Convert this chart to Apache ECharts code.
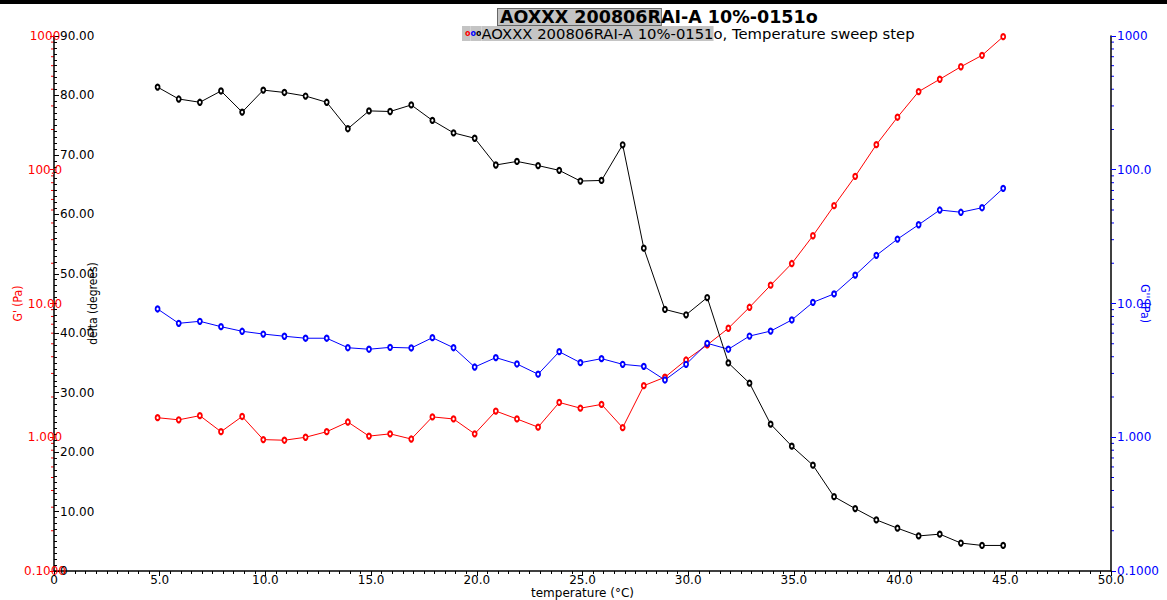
<!DOCTYPE html>
<html>
<head>
<meta charset="utf-8">
<script src="https://cdn.jsdelivr.net/npm/echarts@6/dist/echarts.min.js"></script>
<style>
  html, body { margin: 0; padding: 0; background: #ffffff; }
  #chart { width: 1167px; height: 600px; }
</style>
</head>
<body>
<div id="chart"></div>
<script>
// ---- data ----
const temperature = [4.9, 5.9, 6.9, 7.9, 8.9, 9.9, 10.9, 11.9, 12.9, 13.9,
  14.9, 15.9, 16.9, 17.9, 18.9, 19.9, 20.9, 21.9, 22.9, 23.9,
  24.9, 25.9, 26.9, 27.9, 28.9, 29.9, 30.9, 31.9, 32.9, 33.9,
  34.9, 35.9, 36.9, 37.9, 38.9, 39.9, 40.9, 41.9, 42.9, 43.9, 44.9];

const gPrime = [1.40, 1.35, 1.45, 1.10, 1.43, 0.96, 0.95, 1.00, 1.10, 1.30,
  1.02, 1.06, 0.97, 1.42, 1.37, 1.06, 1.57, 1.37, 1.19, 1.82,
  1.65, 1.76, 1.18, 2.43, 2.81, 3.78, 4.90, 6.53, 9.37, 13.7,
  19.9, 32.1, 53.9, 89.3, 154, 247, 384, 475, 589, 717, 988];

const gDoublePrime = [9.10, 7.11, 7.36, 6.71, 6.20, 5.91, 5.69, 5.50, 5.50, 4.67,
  4.55, 4.70, 4.65, 5.55, 4.67, 3.35, 3.94, 3.53, 2.96, 4.36,
  3.61, 3.87, 3.51, 3.39, 2.68, 3.51, 5.04, 4.55, 5.71, 6.22,
  7.53, 10.2, 11.8, 16.3, 22.9, 30.3, 38.8, 50.0, 48.1, 52.0, 72.6];

const delta = [81.4, 79.4, 78.85, 80.75, 77.2, 80.9, 80.5, 79.9, 78.85, 74.4,
  77.4, 77.3, 78.4, 75.8, 73.7, 72.8, 68.3, 68.9, 68.2, 67.4,
  65.6, 65.7, 71.7, 54.3, 44.0, 43.1, 46.0, 35.0, 31.6, 24.7,
  21.0, 17.8, 12.5, 10.5, 8.6, 7.2, 5.9, 6.2, 4.7, 4.3, 4.3];

const logTickExponents = [-1, 0, 1, 2, 3];
const logTickLabels = ['0.1000', '1.000', '10.00', '100.0', '1000'];
const logMinorMultipliers = [2, 3, 4, 5, 6, 7, 8, 9];
const logDecades = [0.1, 1, 10, 100];

const titleText = 'AOXXX 200806R';
const titleRest = 'AI-A 10%-0151o';
const legendBoxed = 'AOXXX 200806RAI-A 10%-0151';
const legendRest = 'o, Temperature sweep step';
const deltaName = 'delta (degrees)';
const gPrimeName = "G' (Pa)";
const gDoublePrimeName = "G'' (Pa)";
const xName = 'temperature (°C)';

// ---- chart ----
const FONT = 'DejaVu Sans';
const NARROW = "'DejaVu Sans Condensed', 'Liberation Sans Narrow', 'Liberation Sans', sans-serif";
const RED = '#ff0000', BLUE = '#0000ff', BLACK = '#000000';

function logLabel(v) {
  const e = Math.round(Math.log10(v));
  const i = logTickExponents.indexOf(e);
  return i >= 0 ? logTickLabels[i] : '';
}
function pairs(ys) { return temperature.map((t, i) => [t, ys[i]]); }

const chart = echarts.init(document.getElementById('chart'), null, { renderer: 'svg' });

const symbolSize = [4, 5];
const option = {
  backgroundColor: '#ffffff',
  animation: false,
  title: [
    {
      left: 493, top: 4,
      text: '{hl|' + titleText + '}{n|' + titleRest + '}',
      textStyle: {
        rich: {
          hl: { fontFamily: FONT, fontWeight: 'bold', fontSize: 17.5, color: '#000',
                backgroundColor: '#c4c4c4', borderColor: '#666', borderWidth: 1, padding: [0, 0, 0, 2], height: 16 },
          n: { fontFamily: FONT, fontWeight: 'bold', fontSize: 17.5, color: '#000', height: 16 }
        }
      }
    },
    {
      left: 457, top: 21,
      text: '{r|o}{b|o}{k|o}{hl|' + legendBoxed + '}{n|' + legendRest + '}',
      textStyle: {
        fontWeight: 'normal',
        rich: {
          r: { fontFamily: FONT, fontWeight: 'bold', fontSize: 8, color: RED, backgroundColor: '#c4c4c4', height: 15, padding: [0, 0, 0, 3] },
          b: { fontFamily: FONT, fontWeight: 'bold', fontSize: 8, color: BLUE, backgroundColor: '#c4c4c4', height: 15 },
          k: { fontFamily: FONT, fontWeight: 'bold', fontSize: 8, color: BLACK, backgroundColor: '#c4c4c4', height: 15 },
          hl: { fontFamily: FONT, fontWeight: 'normal', fontSize: 14.8, color: '#000', backgroundColor: '#c4c4c4', height: 15 },
          n: { fontFamily: FONT, fontWeight: 'normal', fontSize: 14.8, color: '#000', height: 15 }
        }
      }
    }
  ],
  grid: { left: 54, right: 56, top: 36, bottom: 29, containLabel: false, outerBoundsMode: 'none' },
  xAxis: {
    type: 'value', min: 0, max: 50, interval: 5,
    axisLine: { show: true, lineStyle: { color: BLACK, width: 1.5 } },
    axisTick: { show: true, inside: false, length: 5, lineStyle: { color: BLACK } },
    minorTick: { show: true, splitNumber: 10, length: 3, lineStyle: { color: BLACK } },
    splitLine: { show: false },
    axisLabel: { fontFamily: FONT, fontSize: 12, color: '#000', margin: 3,
                 formatter: v => v === 0 ? '0' : v.toFixed(1) }
  },
  yAxis: [
    {
      type: 'log', logBase: 10, min: 0.1, max: 1000, position: 'left',
      axisLine: { show: true, lineStyle: { color: BLACK, width: 1.5 } },
      axisTick: { show: true, inside: false, length: 4, lineStyle: { color: RED } },
      splitLine: { show: false },
      axisLabel: { fontFamily: FONT, fontSize: 12, color: RED, margin: 9, align: 'center', formatter: logLabel }
    },
    {
      type: 'value', min: 0, max: 90, interval: 10, position: 'left',
      axisLine: { show: false },
      axisTick: { show: true, inside: true, length: 5, lineStyle: { color: BLACK } },
      minorTick: { show: true, splitNumber: 10, length: 3, lineStyle: { color: BLACK } },
      splitLine: { show: false },
      axisLabel: { inside: true, fontFamily: FONT, fontSize: 12, color: '#000', margin: 6,
                   formatter: v => v === 0 ? '0' : v.toFixed(2) }
    },
    {
      type: 'log', logBase: 10, min: 0.1, max: 1000, position: 'right',
      axisLine: { show: true, lineStyle: { color: BLACK, width: 1.5 } },
      axisTick: { show: true, inside: false, length: 5, lineStyle: { color: BLUE } },
      splitLine: { show: false },
      axisLabel: { fontFamily: FONT, fontSize: 12, color: BLUE, margin: 6, formatter: logLabel }
    }
  ],
  series: [
    {
      name: "G'", type: 'line', yAxisIndex: 0, data: pairs(gPrime),
      symbol: 'emptyCircle', symbolSize: symbolSize,
      lineStyle: { color: RED, width: 1 },
      itemStyle: { color: RED, borderColor: RED, borderWidth: 1 }
    },
    {
      name: "G''", type: 'line', yAxisIndex: 2, data: pairs(gDoublePrime),
      symbol: 'emptyCircle', symbolSize: symbolSize,
      lineStyle: { color: BLUE, width: 1 },
      itemStyle: { color: BLUE, borderColor: BLUE, borderWidth: 1 }
    },
    {
      name: 'delta', type: 'line', yAxisIndex: 1, data: pairs(delta),
      symbol: 'emptyCircle', symbolSize: symbolSize,
      lineStyle: { color: BLACK, width: 1 },
      itemStyle: { color: BLACK, borderColor: BLACK, borderWidth: 1 }
    }
  ]
};
chart.setOption(option);

// Axis names, log-axis minor ticks and top bar, positioned through the axes
const graphics = [{ type: 'rect', left: 0, top: 0, shape: { x: 0, y: 0, width: 1167, height: 4 },
                    style: { fill: '#000' }, silent: true }];
const xL = chart.convertToPixel({ xAxisIndex: 0 }, 0);
const xR = chart.convertToPixel({ xAxisIndex: 0 }, 50);
const xMid = chart.convertToPixel({ xAxisIndex: 0 }, 25);
const yMid = chart.convertToPixel({ yAxisIndex: 1 }, 45);
const yBottom = chart.convertToPixel({ yAxisIndex: 1 }, 0);
graphics.push({
  type: 'text', silent: true, x: xL + 39, y: yMid, rotation: Math.PI / 2,
  style: { text: deltaName, fill: BLACK, font: '12px ' + NARROW, align: 'center', verticalAlign: 'middle' }
});
graphics.push({
  type: 'text', silent: true, x: xL - 36, y: yMid, rotation: Math.PI / 2,
  style: { text: gPrimeName, fill: RED, font: '12px ' + NARROW, align: 'center', verticalAlign: 'middle' }
});
graphics.push({
  type: 'text', silent: true, x: xR + 34, y: yMid, rotation: -Math.PI / 2,
  style: { text: gDoublePrimeName, fill: BLUE, font: '12px ' + NARROW, align: 'center', verticalAlign: 'middle' }
});
graphics.push({
  type: 'text', silent: true, x: xMid, y: yBottom + 22,
  style: { text: xName, fill: BLACK, font: '12px ' + FONT, align: 'center', verticalAlign: 'middle' }
});
logDecades.forEach(d => {
  logMinorMultipliers.forEach(k => {
    const v = k * d;
    const yl = chart.convertToPixel({ yAxisIndex: 0 }, v);
    const yr = chart.convertToPixel({ yAxisIndex: 2 }, v);
    graphics.push({ type: 'line', silent: true, shape: { x1: xL - 3, y1: yl, x2: xL, y2: yl },
                    style: { stroke: RED, lineWidth: 1 } });
    graphics.push({ type: 'line', silent: true, shape: { x1: xR, y1: yr, x2: xR + 3, y2: yr },
                    style: { stroke: BLUE, lineWidth: 1 } });
  });
});
chart.setOption({ graphic: graphics });
</script>
</body>
</html>
